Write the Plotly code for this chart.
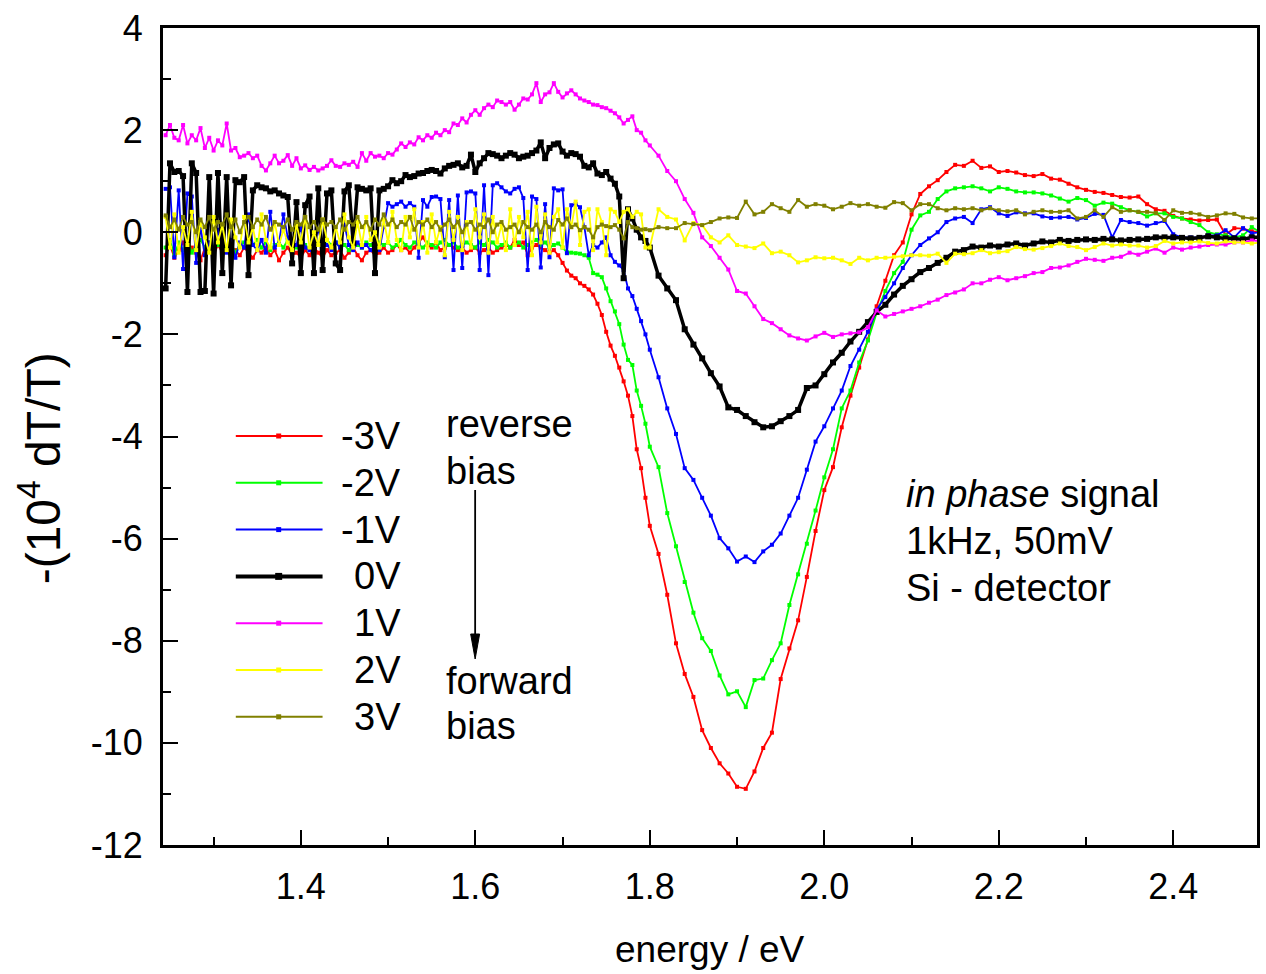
import plotly.graph_objects as go

# ---- measurement grid (photon energy, eV) ----
energy = [
    1.245, 1.25, 1.255, 1.26, 1.265, 1.27, 1.275, 1.28, 1.285, 1.29,
    1.295, 1.3, 1.305, 1.31, 1.315, 1.32, 1.325, 1.33, 1.335, 1.34,
    1.345, 1.35, 1.355, 1.36, 1.365, 1.37, 1.375, 1.38, 1.385, 1.39,
    1.395, 1.4, 1.405, 1.41, 1.415, 1.42, 1.425, 1.43, 1.435, 1.44,
    1.445, 1.45, 1.455, 1.46, 1.465, 1.47, 1.475, 1.48, 1.485, 1.49,
    1.495, 1.5, 1.505, 1.51, 1.515, 1.52, 1.525, 1.53, 1.535, 1.54,
    1.545, 1.55, 1.555, 1.56, 1.565, 1.57, 1.575, 1.58, 1.585, 1.59,
    1.595, 1.6, 1.605, 1.61, 1.615, 1.62, 1.625, 1.63, 1.635, 1.64,
    1.645, 1.65, 1.655, 1.66, 1.665, 1.67, 1.675, 1.68, 1.685, 1.69,
    1.695, 1.7, 1.705, 1.71, 1.715, 1.72, 1.725, 1.73, 1.735, 1.74,
    1.745, 1.75, 1.755, 1.76, 1.765, 1.77, 1.775, 1.78, 1.785, 1.79, 1.795,
    1.80, 1.81, 1.82, 1.83, 1.84, 1.85, 1.86, 1.87, 1.88, 1.89,
    1.90, 1.91, 1.92, 1.93, 1.94, 1.95, 1.96, 1.97, 1.98, 1.99,
    2.00, 2.01, 2.02, 2.03, 2.04, 2.05, 2.06, 2.07, 2.08, 2.09,
    2.10, 2.11, 2.12, 2.13, 2.14, 2.15, 2.16, 2.17, 2.18, 2.19,
    2.20, 2.21, 2.22, 2.23, 2.24, 2.25, 2.26, 2.27, 2.28, 2.29,
    2.30, 2.31, 2.32, 2.33, 2.34, 2.35, 2.36, 2.37, 2.38, 2.39,
    2.40, 2.41, 2.42, 2.43, 2.44, 2.45, 2.46, 2.47, 2.48, 2.49,
    2.50,
]

# ---- -(1e4 dT/T) for each bias voltage ----
bias_minus3V = [
    -0.45, -0.25, -0.5, -0.35, -0.2, -0.45, -0.3, -0.4, -0.55, -0.3,
    -0.35, -0.45, -0.25, -0.4, -0.3, -0.5, -0.35, -0.45, -0.3, -0.4,
    -0.5, -0.35, -0.4, -0.3, -0.45, -0.35, -0.55, -0.4, -0.3, -0.45,
    -0.4, -0.5, -0.35, -0.45, -0.3, -0.4, -0.5, -0.35, -0.45, -0.4,
    -0.35, -0.5, -0.4, -0.3, -0.45, -0.55, -0.4, -0.35, -0.45, -0.4,
    -0.3, -0.4, -0.35, -0.25, -0.35, -0.3, -0.4, -0.3, -0.2, -0.1,
    -0.25, -0.3, -0.2, -0.35, -0.3, -0.25, -0.3, -0.35, -0.3, -0.4,
    -0.35, -0.3, -0.4, -0.35, -0.3, -0.4, -0.35, -0.3, -0.25, -0.3,
    -0.15, -0.25, -0.2, -0.45, -0.3, -0.25, -0.3, -0.35, -0.4, -0.35,
    -0.45, -0.6, -0.75, -0.85, -0.9, -1.0, -1.05, -1.12, -1.22, -1.4,
    -1.62, -1.95, -2.22, -2.42, -2.65, -2.92, -3.2, -3.6, -4.25, -4.62, -5.2,
    -5.75, -6.3, -7.1, -8.05, -8.65, -9.1, -9.75, -10.1, -10.4, -10.6,
    -10.86, -10.9, -10.56, -10.1, -9.8, -8.75, -8.15, -7.6, -6.75, -5.85,
    -5.05, -4.6, -3.82, -3.2, -2.65, -2.1, -1.45, -0.95, -0.45, -0.2,
    0.35, 0.75, 0.9, 1.02, 1.18, 1.32, 1.3, 1.4, 1.26, 1.29,
    1.18, 1.2, 1.17, 1.12, 1.1, 1.14, 1.05, 1.03, 0.95, 0.88,
    0.83, 0.79, 0.77, 0.73, 0.69, 0.68, 0.7, 0.55, 0.45, 0.42,
    0.32, 0.27, 0.25, 0.23, 0.24, 0.25, -0.05, 0.08, 0.07, 0.02,
    0.0,
]

bias_minus2V = [
    -0.3, -0.15, -0.45, -0.2, -0.35, -0.1, -0.4, -0.25, -0.15, -0.3,
    -0.2, -0.35, -0.25, -0.15, -0.3, -0.2, -0.4, -0.25, -0.2, -0.3,
    -0.25, -0.15, -0.3, -0.2, -0.35, -0.25, -0.2, -0.3, -0.15, -0.25,
    -0.3, -0.2, -0.25, -0.35, -0.2, -0.25, -0.3, -0.15, -0.25, -0.2,
    -0.3, -0.25, -0.35, -0.2, -0.25, -0.3, -0.2, -0.25, -0.3, -0.2,
    -0.25, -0.2, -0.3, -0.25, -0.15, -0.25, -0.3, -0.2, -0.25, -0.3,
    -0.2, -0.25, -0.3, -0.2, -0.15, -0.25, -0.2, -0.3, -0.25, -0.2,
    -0.25, -0.3, -0.2, -0.25, -0.15, -0.2, -0.3, -0.25, -0.2, -0.3,
    -0.25, -0.2, -0.3, -0.25, -0.2, -0.15, -0.25, -0.2, -0.3, -0.25,
    -0.22, -0.3, -0.39, -0.4, -0.41, -0.42, -0.45, -0.5, -0.8, -0.83,
    -0.88, -1.1, -1.35, -1.55, -1.8, -2.2, -2.5, -2.6, -3.1, -3.4, -3.75,
    -4.2, -4.6, -5.5, -6.15, -6.85, -7.45, -7.95, -8.2, -8.68, -9.05,
    -8.99, -9.3, -8.77, -8.74, -8.38, -8.05, -7.3, -6.7, -6.1, -5.45,
    -4.8, -4.25, -3.45, -3.1, -2.55, -2.12, -1.58, -1.15, -0.8, -0.58,
    0.05, 0.33, 0.4, 0.65, 0.8, 0.86, 0.88, 0.9, 0.86, 0.8,
    0.88, 0.85, 0.8, 0.78, 0.78, 0.76, 0.72, 0.66, 0.6, 0.67,
    0.63, 0.52, 0.58, 0.56, 0.49, 0.43, 0.4, 0.31, 0.37, 0.37,
    0.3, 0.27, 0.2, 0.14, 0.0, -0.04, -0.06, -0.1, -0.06, 0.1,
    0.0,
]

bias_minus1V = [
    0.85, 0.88, -0.49, 0.82, -0.72, 0.76, 0.7, -0.6, 0.1, -0.45,
    -0.2, -0.55, 0.05, -0.3, -0.4, -0.15, -0.5, -0.2, -0.3, 0.35,
    -0.25, -0.35, -0.15, -0.4, 0.4, -0.3, -0.2, 0.35, -0.1, -0.3,
    -0.25, 0.1, -0.3, -0.35, -0.2, 0.05, -0.3, -0.25, -0.35, -0.2,
    -0.3, 0.15, -0.25, -0.35, -0.2, -0.3, -0.25, -0.35, -0.3, -0.35,
    0.1, 0.57, 0.5, 0.55, 0.6, 0.5, 0.57, 0.5, -0.5, 0.63,
    0.5, 0.69, 0.7, 0.65, -0.49, 0.63, -0.74, 0.72, -0.7, 0.78,
    0.8, 0.76, -0.74, 0.92, -0.84, 0.92, 0.96, 0.88, 0.8, 0.76,
    0.85, 0.88, 0.67, -0.74, 0.7, 0.65, -0.69, 0.55, -0.49, 0.86,
    0.82, 0.84, -0.41, 0.53, 0.55, 0.49, 0.1, -0.45, -0.25, -0.3,
    -0.2, -0.1, -0.45, -0.58, -0.65, -0.74, -1.1, -1.25, -1.5, -1.74, -2.0,
    -2.3, -2.84, -3.45, -3.95, -4.62, -4.85, -5.2, -5.55, -5.99, -6.19,
    -6.45, -6.35, -6.46, -6.25, -6.12, -5.9, -5.55, -5.2, -4.65, -4.1,
    -3.8, -3.45, -3.1, -2.62, -2.3, -1.95, -1.52, -1.27, -1.0, -0.7,
    -0.45, -0.25, -0.12, 0.0, 0.2, 0.27, 0.3, 0.18, 0.45, 0.49,
    0.37, 0.32, 0.39, 0.37, 0.37, 0.31, 0.28, 0.29, 0.3, 0.25,
    0.28, 0.36, 0.34, -0.1, 0.24, 0.2, 0.18, 0.13, 0.18, 0.22,
    -0.04, -0.1, -0.1, -0.1, -0.06, -0.06, 0.04, -0.1, 0.08, -0.02,
    0.0,
]

bias_0V = [
    -1.1, 1.35, 1.18, 1.2, 1.1, -1.17, 1.35, 1.16, -1.17, -1.15,
    1.08, -1.2, 1.16, -0.8, 1.08, -1.04, 1.02, 0.98, 1.08, -0.84,
    0.82, 0.92, 0.88, 0.86, 0.8, 0.82, 0.76, 0.72, 0.69, -0.61,
    0.59, -0.8, 0.53, 0.7, -0.8, 0.86, -0.74, 0.76, 0.82, -0.61,
    -0.74, 0.8, 0.92, -0.22, 0.88, 0.85, 0.82, 0.86, -0.8, 0.82,
    0.85, 0.9, 1.02, 0.96, 1.0, 1.12, 1.08, 1.1, 1.15, 1.16,
    1.2, 1.22, 1.2, 1.15, 1.25, 1.3, 1.32, 1.35, 1.27, 1.3,
    1.52, 1.18, 1.35, 1.45, 1.55, 1.53, 1.5, 1.45, 1.5, 1.55,
    1.52, 1.45, 1.48, 1.5, 1.55, 1.6, 1.76, 1.45, 1.65, 1.72,
    1.74, 1.58, 1.5, 1.55, 1.53, 1.48, 1.3, 1.27, 1.35, 1.15,
    1.12, 1.18, 1.05, 0.95, 0.7, -0.9, 0.45, 0.27, 0.05, -0.1, -0.17,
    -0.3, -0.85, -1.1, -1.33, -1.9, -2.2, -2.47, -2.76, -3.02, -3.43,
    -3.48, -3.6, -3.72, -3.82, -3.8, -3.7, -3.6, -3.48, -3.05, -3.0,
    -2.78, -2.55, -2.36, -2.14, -1.95, -1.76, -1.56, -1.42, -1.22, -1.05,
    -0.92, -0.78, -0.7, -0.6, -0.5, -0.38, -0.35, -0.28, -0.3, -0.26,
    -0.28, -0.24, -0.22, -0.26, -0.22, -0.18, -0.2, -0.15, -0.17, -0.15,
    -0.14, -0.15, -0.13, -0.14, -0.16, -0.15, -0.14, -0.13, -0.1, -0.1,
    -0.1, -0.11, -0.12, -0.11, -0.08, -0.1, -0.12, -0.12, -0.14, -0.1,
    -0.1,
]

bias_plus1V = [
    1.9, 2.1, 1.85, 1.8, 2.1, 1.74, 1.9, 1.8, 2.04, 1.65,
    1.85, 1.6, 1.8, 1.7, 2.13, 1.6, 1.65, 1.47, 1.5, 1.55,
    1.45, 1.5, 1.3, 1.21, 1.35, 1.5, 1.35, 1.4, 1.51, 1.3,
    1.45, 1.25, 1.31, 1.22, 1.28, 1.21, 1.25, 1.3, 1.41, 1.3,
    1.28, 1.35, 1.32, 1.38, 1.28, 1.55, 1.4, 1.55, 1.48, 1.5,
    1.45, 1.55, 1.52, 1.62, 1.74, 1.67, 1.76, 1.72, 1.86, 1.8,
    1.9, 1.85, 1.95, 1.9, 2.0, 1.96, 2.13, 2.1, 2.23, 2.15,
    2.3, 2.39, 2.3, 2.43, 2.5, 2.45, 2.58, 2.55, 2.5, 2.55,
    2.4, 2.5, 2.62, 2.6, 2.7, 2.92, 2.55, 2.7, 2.74, 2.92,
    2.75, 2.64, 2.72, 2.78, 2.7, 2.62, 2.58, 2.55, 2.5, 2.49,
    2.45, 2.43, 2.38, 2.33, 2.25, 2.13, 2.2, 2.27, 2.0, 1.95, 1.8,
    1.7, 1.5, 1.2, 1.0, 0.65, 0.38, -0.1, -0.27, -0.5, -0.73,
    -1.15, -1.2, -1.45, -1.7, -1.78, -1.9, -2.02, -2.08, -2.12, -2.04,
    -1.97, -2.05, -2.0, -1.98, -1.96, -1.86, -1.53, -1.65, -1.6, -1.55,
    -1.5, -1.45, -1.38, -1.32, -1.23, -1.18, -1.12, -1.0, -1.0, -0.93,
    -0.88, -0.94, -0.9, -0.86, -0.8, -0.78, -0.7, -0.69, -0.65, -0.58,
    -0.52, -0.54, -0.56, -0.5, -0.48, -0.4, -0.44, -0.38, -0.32, -0.4,
    -0.3, -0.34, -0.3, -0.28, -0.25, -0.24, -0.24, -0.2, -0.2, -0.16,
    -0.17,
]

bias_plus2V = [
    0.3, -0.3, 0.35, -0.4, 0.1, -0.25, 0.4, -0.35, 0.2, -0.1,
    -0.4, 0.3, -0.2, 0.15, -0.35, 0.25, -0.1, -0.3, 0.3, -0.2,
    0.1, -0.35, 0.35, -0.15, -0.3, 0.2, -0.25, 0.05, -0.2, -0.35,
    0.15, -0.2, 0.3, -0.3, 0.0, -0.25, 0.25, -0.15, -0.3, 0.1,
    -0.2, 0.35, -0.1, -0.3, 0.2, -0.25, 0.3, -0.15, 0.0, -0.3,
    0.25, -0.2, 0.4, -0.15, -0.35, 0.3, -0.1, 0.45, -0.3, 0.2,
    -0.4, 0.35, -0.2, 0.1, -0.45, 0.4, -0.15, 0.3, -0.35, 0.2,
    -0.3, 0.45, -0.1, 0.35, -0.4, 0.3, -0.2, 0.15, -0.35, 0.45,
    -0.25, 0.3, -0.1, 0.4, -0.45, 0.5, -0.2, 0.35, -0.4, 0.3,
    0.45, -0.3, 0.45, 0.1, 0.6, -0.25, 0.4, 0.45, -0.35, 0.45,
    0.2, -0.45, 0.45, 0.4, 0.2, 0.4, 0.45, 0.3, 0.4, 0.35, -0.3,
    -0.3, 0.45, 0.3, 0.25, -0.16, 0.18, 0.14, -0.1, -0.2, -0.06,
    -0.25, -0.28, -0.31, -0.22, -0.41, -0.38, -0.45, -0.59, -0.55, -0.49,
    -0.51, -0.5, -0.55, -0.62, -0.5, -0.55, -0.5, -0.5, -0.48, -0.47,
    -0.45, -0.45, -0.46, -0.42, -0.6, -0.42, -0.43, -0.41, -0.35, -0.41,
    -0.39, -0.37, -0.29, -0.33, -0.34, -0.31, -0.27, -0.22, -0.27, -0.29,
    -0.35, -0.29, -0.22, -0.26, -0.24, -0.26, -0.26, -0.3, -0.27, -0.17,
    -0.22, -0.2, -0.2, -0.18, -0.21, -0.22, -0.18, -0.2, -0.2, -0.22,
    -0.2,
]

bias_plus3V = [
    0.33, 0.1, 0.25, 0.05, 0.3, 0.15, 0.2, 0.0, 0.25, 0.1,
    0.3, 0.05, 0.2, 0.15, 0.35, 0.1, 0.25, 0.0, 0.2, 0.3,
    0.1, 0.25, 0.15, 0.3, 0.05, 0.2, 0.15, 0.1, 0.25, 0.05,
    0.2, 0.15, 0.3, 0.1, 0.2, 0.05, 0.25, 0.15, 0.2, 0.1,
    0.25, 0.05, 0.2, 0.15, 0.3, 0.1, 0.2, 0.05, 0.25, 0.15,
    0.35, 0.15, 0.25, 0.1, 0.2, 0.15, 0.3, 0.05, 0.2, 0.15,
    0.25, 0.1, 0.2, 0.05, 0.15, 0.25, 0.1, 0.2, 0.0, 0.15,
    0.2, 0.05, 0.15, 0.1, 0.25, 0.0, 0.15, 0.2, 0.05, 0.1,
    0.15, 0.0, 0.2, 0.1, 0.05, 0.15, 0.0, 0.2, 0.1, 0.05,
    0.24, 0.15, 0.27, 0.1, 0.15, 0.04, 0.1, 0.05, -0.1, 0.1,
    0.15, 0.12, 0.1, 0.14, 0.05, -0.12, 0.2, 0.1, 0.08, 0.05, 0.06,
    0.04, 0.1, 0.08, 0.08, 0.18, 0.16, 0.14, 0.2, 0.27, 0.29,
    0.28, 0.6, 0.35, 0.4, 0.55, 0.47, 0.4, 0.63, 0.5, 0.55,
    0.52, 0.45, 0.5, 0.57, 0.52, 0.55, 0.5, 0.48, 0.59, 0.57,
    0.43, 0.55, 0.55, 0.47, 0.43, 0.47, 0.45, 0.47, 0.43, 0.47,
    0.43, 0.41, 0.43, 0.35, 0.4, 0.43, 0.4, 0.4, 0.43, 0.27,
    0.3, 0.43, 0.3, 0.49, 0.4, 0.43, 0.4, 0.4, 0.38, 0.24,
    0.43, 0.38, 0.38, 0.35, 0.3, 0.33, 0.37, 0.36, 0.29, 0.27,
    0.27,
]

bias_labels = ["-3V", "-2V", "-1V", "0V", "1V", "2V", "3V"]
bias_values = [bias_minus3V, bias_minus2V, bias_minus1V, bias_0V,
               bias_plus1V, bias_plus2V, bias_plus3V]
bias_colors = ["#ff0000", "#00ff00", "#0000ff", "#000000",
               "#ff00ff", "#ffff00", "#808000"]

x_tick_values = [1.4, 1.6, 1.8, 2.0, 2.2, 2.4]
x_tick_labels = ["1.4", "1.6", "1.8", "2.0", "2.2", "2.4"]
x_minor_values = [1.3, 1.5, 1.7, 1.9, 2.1, 2.3, 2.5]
y_tick_values = [4, 2, 0, -2, -4, -6, -8, -10, -12]
y_tick_labels = ["4", "2", "0", "-2", "-4", "-6", "-8", "-10", "-12"]
y_minor_values = [3, 1, -1, -3, -5, -7, -9, -11]

for vals in bias_values:
    assert len(vals) == len(energy)

# ---- page geometry (pixels) ----
W, H = 1266, 974
L, R, T, B = 163, 1260, 28, 845
FONT = "Liberation Sans, Arial, Helvetica, sans-serif"


def fx(xp):
    return (xp - L) / (R - L)


def fy(yp):
    return (B - yp) / (B - T)


fig = go.Figure()

for label, vals, color in zip(bias_labels, bias_values, bias_colors):
    thick = label == "0V"
    fig.add_trace(go.Scatter(
        x=energy, y=vals, name=label, mode="lines+markers",
        line=dict(color=color, width=3.5 if thick else 1.8),
        marker=dict(symbol="square", size=6 if thick else 4, color=color,
                    line=dict(width=0)),
        showlegend=False,
    ))

shapes = []
annotations = []

# hand-placed key on the left side
key_top, key_step = 436, 46.8
for k, (label, color) in enumerate(zip(bias_labels, bias_colors)):
    yk = key_top + k * key_step
    thick = label == "0V"
    shapes.append(dict(type="line", xref="paper", yref="paper",
                       x0=fx(236), x1=fx(323), y0=fy(yk), y1=fy(yk),
                       line=dict(color=color, width=4 if thick else 2)))
    half = 3.5 if thick else 2.5
    shapes.append(dict(type="rect", xref="paper", yref="paper",
                       x0=fx(279 - half), x1=fx(279 + half),
                       y0=fy(yk + half), y1=fy(yk - half),
                       fillcolor=color, line=dict(width=0)))
    annotations.append(dict(xref="paper", yref="paper", x=fx(404), y=fy(yk),
                            xanchor="right", yanchor="middle", showarrow=False,
                            text=label, font=dict(family=FONT, size=38, color="black")))

for txt, yc in [("reverse", 424), ("bias", 471), ("forward", 681), ("bias", 726)]:
    annotations.append(dict(xref="paper", yref="paper", x=fx(445), y=fy(yc),
                            xanchor="left", yanchor="middle", showarrow=False,
                            text=txt, font=dict(family=FONT, size=38, color="black")))

# arrow from reverse to forward bias: shaft plus filled head
shapes.append(dict(type="line", xref="paper", yref="paper",
                   x0=fx(476), x1=fx(476), y0=fy(490), y1=fy(640),
                   line=dict(color="black", width=1.8)))
shapes.append(dict(type="path", xref="paper", yref="paper",
                   path=f"M {fx(471.5)} {fy(634)} L {fx(480.5)} {fy(634)} "
                        f"L {fx(476)} {fy(659)} Z",
                   fillcolor="black", line=dict(color="black", width=1)))

for txt, yc in [("<i>in phase</i> signal", 494), ("1kHz, 50mV", 541),
                ("Si - detector", 588)]:
    annotations.append(dict(xref="paper", yref="paper", x=fx(906), y=fy(yc),
                            xanchor="left", yanchor="middle", showarrow=False,
                            text=txt, font=dict(family=FONT, size=38, color="black")))

# axis titles
annotations.append(dict(xref="paper", yref="paper", x=fx(711), y=fy(950),
                        xanchor="center", yanchor="middle", showarrow=False,
                        text="energy / eV",
                        font=dict(family=FONT, size=37, color="black")))
annotations.append(dict(xref="paper", yref="paper", x=fx(40), y=fy(468),
                        xanchor="center", yanchor="middle", showarrow=False,
                        textangle=-90, text="-(10<sup>4</sup> dT/T)",
                        font=dict(family=FONT, size=48, color="black")))

axis_common = dict(
    showline=True, linewidth=3, linecolor="black", mirror=True,
    showgrid=False, zeroline=False,
    ticks="inside", ticklen=15, tickwidth=2, tickcolor="black",
    tickfont=dict(family=FONT, size=36, color="black"),
)

fig.update_layout(
    width=W, height=H,
    margin=dict(l=L, r=W - R, t=T, b=H - B),
    paper_bgcolor="white", plot_bgcolor="white",
    showlegend=False,
    xaxis=dict(range=[1.242, 2.496], tickmode="array",
               tickvals=x_tick_values, ticktext=x_tick_labels,
               minor=dict(ticks="inside", ticklen=8, tickwidth=2,
                          tickcolor="black", tickvals=x_minor_values),
               ticklabelstandoff=8, **axis_common),
    yaxis=dict(range=[-12, 4], tickmode="array",
               tickvals=y_tick_values, ticktext=y_tick_labels,
               minor=dict(ticks="inside", ticklen=8, tickwidth=2,
                          tickcolor="black", tickvals=y_minor_values),
               ticklabelstandoff=10, **axis_common),
    shapes=shapes,
    annotations=annotations,
)

fig.write_html("out.html")
